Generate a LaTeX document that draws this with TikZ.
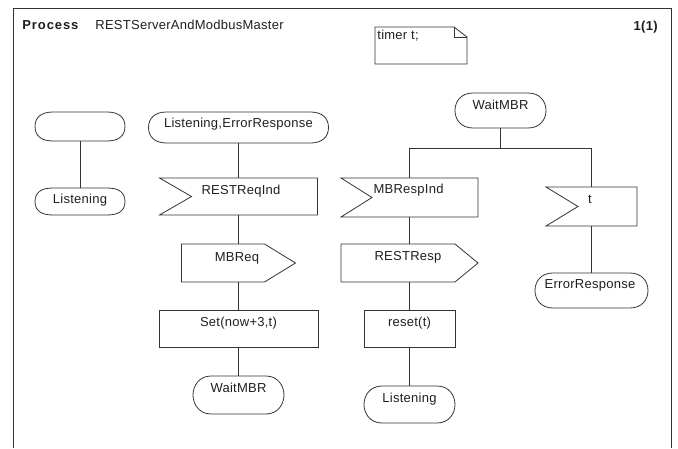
\documentclass[tikz,border=0pt]{standalone}
\usepackage{fontspec}
\setmainfont{Liberation Sans}[LetterSpace=2.0]
\newfontfamily\procfont{Liberation Sans}[LetterSpace=7.0]
\newcommand\sdlstateshape[1]{%
  \draw[ln] ([xshift=18]#1.north west) -- ([xshift=-18]#1.north east)
    .. controls ([xshift=-6]#1.north east) and ([yshift=9]#1.east) .. (#1.east)
    .. controls ([yshift=-9]#1.east) and ([xshift=-6]#1.south east) .. ([xshift=-18]#1.south east)
    -- ([xshift=18]#1.south west)
    .. controls ([xshift=6]#1.south west) and ([yshift=-9]#1.west) .. (#1.west)
    .. controls ([yshift=9]#1.west) and ([xshift=6]#1.north west) .. cycle;}
\begin{document}
\begin{tikzpicture}[x=1pt,y=-1pt,
  font=\fontsize{13}{15}\selectfont,
  line width=0.8pt,
  ln/.style={draw=black!80, line width=0.8pt},
  area/.style={draw=none, inner sep=0pt, outer sep=0pt},
  statebox/.style={area},
  taskbox/.style={area, ln},
  txt/.style={inner sep=0pt, text height=9.3pt, text depth=0pt, text=black!88}
]
\useasboundingbox (0,0) rectangle (678,448);
% frame
\coordinate (fbl) at (13,448);
\coordinate (ftl) at (13,8);
\coordinate (ftr) at (671,8);
\coordinate (fbr) at (671,448);
\draw[ln] (fbl) -- (ftl) -- (ftr) -- (fbr);
\node[txt, anchor=west] (proc) at (22,24.5) {\procfont\bfseries Process};
\node[txt, anchor=west] (pname) at (95,24.5) {RESTServerAndModbusMaster};
\node[txt, anchor=east] (page) at (658,26) {\bfseries 1(1)};
% text note
\node[area, minimum width=92, minimum height=37] (note) at (421,45.5) {};
\draw[ln] (note.north west) -- ([xshift=-13]note.north east) -- ([yshift=-10]note.north east) -- (note.south east) -- (note.south west) -- cycle;
\draw[ln] ([xshift=-13]note.north east) -- ([xshift=-13,yshift=-10]note.north east) -- ([yshift=-10]note.north east);
\node[txt, anchor=west] (note-t) at (377,35) {timer t;};

% ---- left column: start
\node[statebox, minimum width=90, minimum height=29] (start) at (80,126.5) {};
\sdlstateshape{start}
\node[statebox, minimum width=90, minimum height=27] (l1) at (80,201.5) {};
\sdlstateshape{l1}
\node[txt] (l1-t) at (80,199) {Listening};
\draw[ln] (start.south) -- (l1.north);

% ---- middle column
\node[statebox, minimum width=180, minimum height=31] (s1) at (238.5,127.5) {};
\sdlstateshape{s1}
\node[txt] (s1-t) at (238.5,123) {Listening,ErrorResponse};

\node[area, minimum width=158, minimum height=37] (rin) at (238.5,196.5) {};
\draw[ln] (rin.north west) -- (rin.north east) -- (rin.south east) -- (rin.south west) -- ([xshift=32]rin.west) -- cycle;
\node[txt] (rin-t) at (241,190) {RESTReqInd};

\node[area, minimum width=114, minimum height=38] (mbreq) at (238.5,263) {};
\draw[ln] (mbreq.north west) -- ([xshift=-31]mbreq.north east) -- (mbreq.east) -- ([xshift=-31]mbreq.south east) -- (mbreq.south west) -- cycle;
\node[txt] (mbreq-t) at (237,257) {MBReq};

\node[taskbox, minimum width=159, minimum height=37] (setb) at (238.5,328.5) {};
\node[txt] (setb-t) at (238.5,322) {Set(now+3,t)};

\node[statebox, minimum width=91, minimum height=38] (w1) at (238.5,395) {};
\sdlstateshape{w1}
\node[txt] (w1-t) at (238.5,388) {WaitMBR};

\draw[ln] (s1.south) -- (rin.north);
\draw[ln] (rin.south) -- (mbreq.north);
\draw[ln] (mbreq.south) -- (setb.north);
\draw[ln] (setb.south) -- (w1.north);

% ---- right part
\node[statebox, minimum width=91, minimum height=35] (w2) at (500.5,110.5) {};
\sdlstateshape{w2}
\node[txt] (w2-t) at (500.5,105) {WaitMBR};
\coordinate (br) at (500.5,148);

\node[area, minimum width=137, minimum height=39] (mbin) at (409.5,197.5) {};
\draw[ln] (mbin.north west) -- (mbin.north east) -- (mbin.south east) -- (mbin.south west) -- ([xshift=31]mbin.west) -- cycle;
\node[txt] (mbin-t) at (408.5,189) {MBRespInd};

\node[area, minimum width=91, minimum height=39] (tin) at (591.5,206.5) {};
\draw[ln] (tin.north west) -- (tin.north east) -- (tin.south east) -- (tin.south west) -- ([xshift=32]tin.west) -- cycle;
\node[txt] (tin-t) at (590,199) {t};

\draw[ln] (w2.south) -- (br);
\draw[ln] (mbin.north) -- (mbin.north |- br) -- (tin.north |- br) -- (tin.north);

\node[area, minimum width=137, minimum height=38] (rresp) at (409.5,263) {};
\draw[ln] (rresp.north west) -- ([xshift=-23]rresp.north east) -- (rresp.east) -- ([xshift=-23]rresp.south east) -- (rresp.south west) -- cycle;
\node[txt] (rresp-t) at (408,256) {RESTResp};

\node[taskbox, minimum width=91, minimum height=37] (resetb) at (409.5,328.5) {};
\node[txt] (resetb-t) at (409.5,322) {reset(t)};

\node[statebox, minimum width=91, minimum height=37] (l2) at (409.5,404.5) {};
\sdlstateshape{l2}
\node[txt] (l2-t) at (409.5,398) {Listening};

\node[statebox, minimum width=113, minimum height=35] (err) at (591.5,290.5) {};
\sdlstateshape{err}
\node[txt] (err-t) at (590,284) {ErrorResponse};

\draw[ln] (mbin.south) -- (rresp.north);
\draw[ln] (rresp.south) -- (resetb.north);
\draw[ln] (resetb.south) -- (l2.north);
\draw[ln] (tin.south) -- (err.north);
\end{tikzpicture}
\end{document}
